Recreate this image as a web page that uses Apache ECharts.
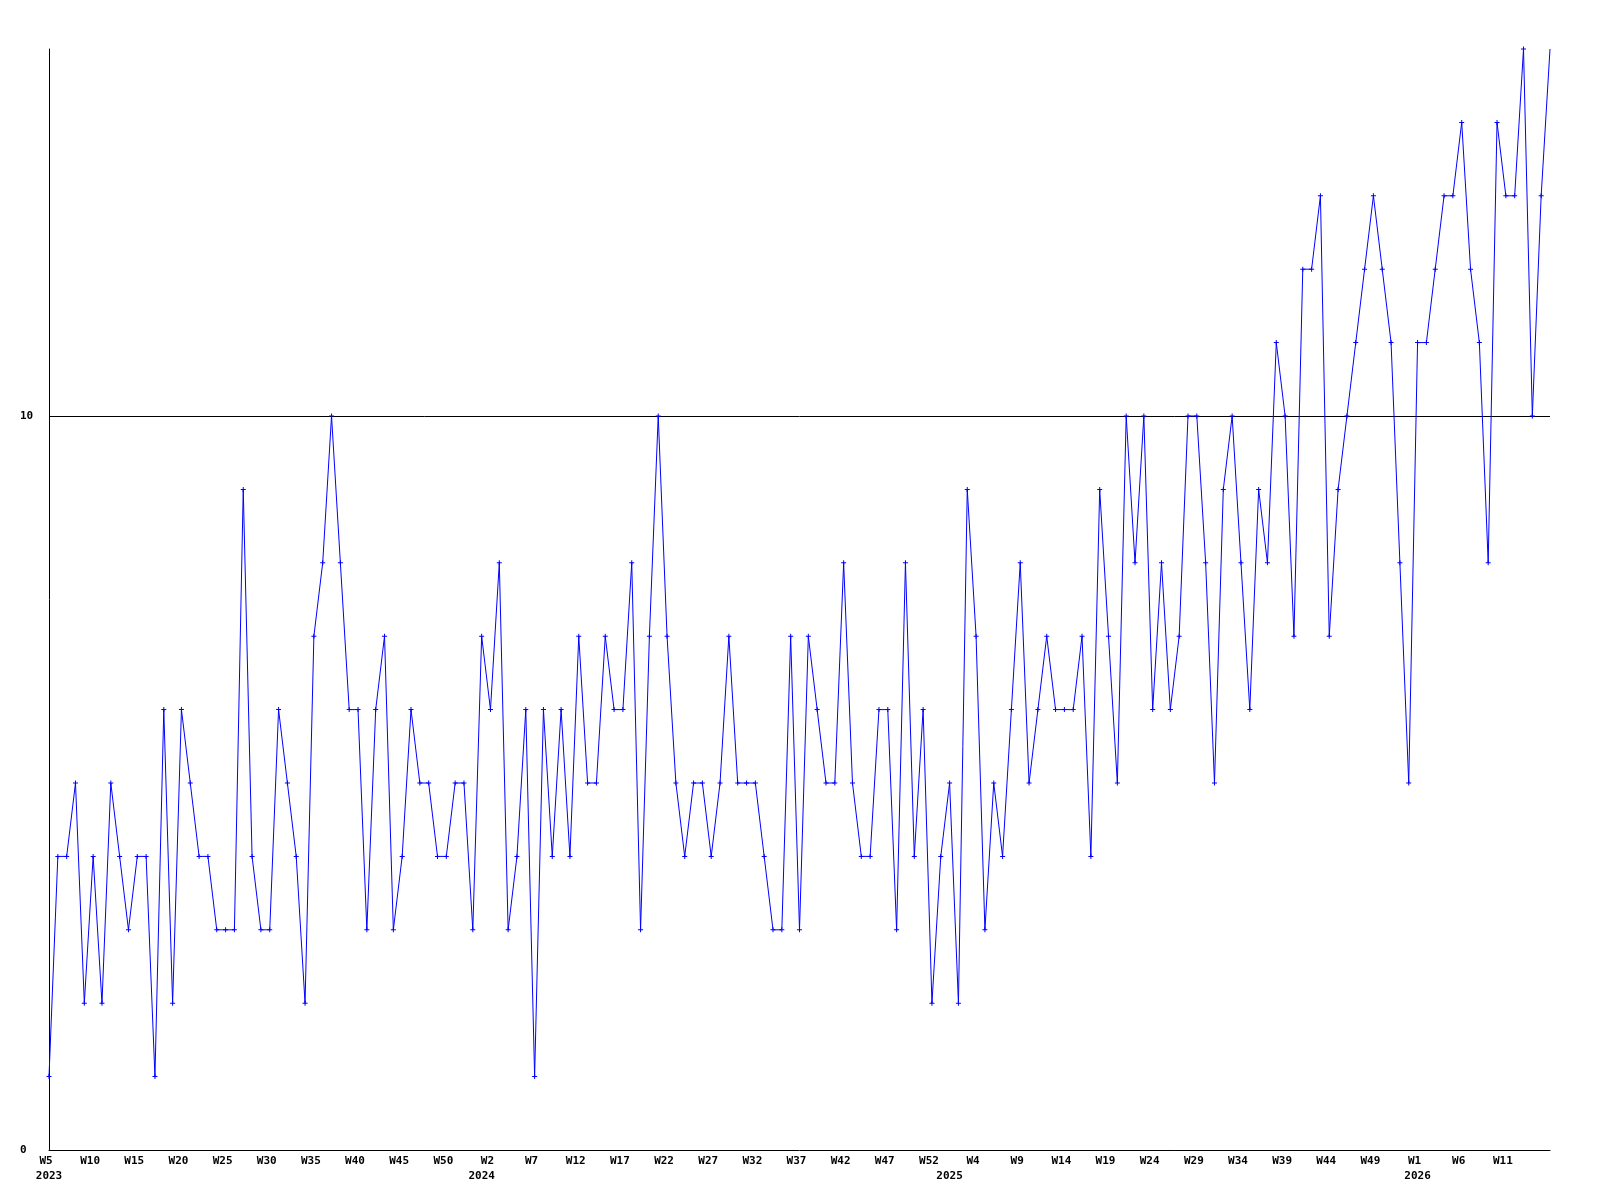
<!DOCTYPE html>
<html>
<head>
<meta charset="utf-8">
<script src="https://cdn.jsdelivr.net/npm/echarts@6/dist/echarts.min.js"></script>
<style>
  html, body { margin: 0; padding: 0; background: #fff; }
  #chart { width: 1600px; height: 1200px; }
</style>
</head>
<body>
<div id="chart"></div>
<script>
// weekly counts, first point is 2023 W5
const values = [
  1, 4, 4, 5, 2, 4, 2, 5, 4, 3,
  4, 4, 1, 6, 2, 6, 5, 4, 4, 3,
  3, 3, 9, 4, 3, 3, 6, 5, 4, 2,
  7, 8, 10, 8, 6, 6, 3, 6, 7, 3,
  4, 6, 5, 5, 4, 4, 5, 5, 3, 7,
  6, 8, 3, 4, 6, 1, 6, 4, 6, 4,
  7, 5, 5, 7, 6, 6, 8, 3, 7, 10,
  7, 5, 4, 5, 5, 4, 5, 7, 5, 5,
  5, 4, 3, 3, 7, 3, 7, 6, 5, 5,
  8, 5, 4, 4, 6, 6, 3, 8, 4, 6,
  2, 4, 5, 2, 9, 7, 3, 5, 4, 6,
  8, 5, 6, 7, 6, 6, 6, 7, 4, 9,
  7, 5, 10, 8, 10, 6, 8, 6, 7, 10,
  10, 8, 5, 9, 10, 8, 6, 9, 8, 11,
  10, 7, 12, 12, 13, 7, 9, 10, 11, 12,
  13, 12, 11, 8, 5, 11, 11, 12, 13, 13,
  14, 12, 11, 8, 14, 13, 13, 15, 10, 13,
  15
];

const startYear = 2023;
const startWeek = 5;
const weeksPerYear = 53;
const labelStep = 5;
const yTicks = [0, 10];

// week / year per point
const weeks = [];
const years = [];
let wk = startWeek, yr = startYear;
for (let i = 0; i < values.length; i++) {
  weeks.push(wk);
  years.push(yr);
  wk++;
  if (wk > weeksPerYear) { wk = 1; yr++; }
}
const categories = weeks.map((w, i) => years[i] + "-W" + w);
const last = values.length - 1;

const font = { fontFamily: "DejaVu Sans Mono", fontWeight: "bold", fontSize: 11, color: "#000" };
const plus = "path://M2,0H3V2H5V3H3V5H2V3H0V2H2Z";

const chart = echarts.init(document.getElementById("chart"), null, { renderer: "canvas" });

chart.setOption({
  animation: false,
  backgroundColor: "#fff",
  grid: { left: 49, right: 50, top: 49, bottom: 50, containLabel: false },
  xAxis: [
    {
      type: "category",
      data: categories,
      boundaryGap: false,
      axisLine: { lineStyle: { color: "#000", width: 1 } },
      axisTick: { show: false },
      splitLine: { show: false },
      axisLabel: Object.assign({}, font, {
        margin: 6,
        padding: [0, 6, 0, 0],
        interval: (i) => i % labelStep === 0 && i !== last,
        formatter: (v, i) => "W" + weeks[i]
      })
    },
    {
      type: "category",
      data: categories,
      boundaryGap: false,
      position: "bottom",
      offset: 15,
      axisLine: { show: false },
      axisTick: { show: false },
      splitLine: { show: false },
      axisLabel: Object.assign({}, font, {
        margin: 6,
        interval: (i) => i === 0 || weeks[i] === 1,
        formatter: (v, i) => String(years[i])
      })
    }
  ],
  yAxis: {
    type: "value",
    min: 0,
    max: 15,
    interval: 10,
    axisLine: { show: true, lineStyle: { color: "#000", width: 1 } },
    axisTick: { show: false },
    splitLine: { show: true, lineStyle: { color: ["transparent", "#000", "transparent"], width: 1 } },
    axisLabel: Object.assign({}, font, {
      align: "left",
      margin: 29,
      formatter: (v) => (yTicks.includes(v) ? String(v) : "")
    })
  },
  series: [
    {
      type: "line",
      data: values,
      xAxisIndex: 0,
      symbol: (v, p) => (p.dataIndex === last ? "none" : plus),
      symbolSize: 5,
      showAllSymbol: true,
      lineStyle: { color: "#0000ff", width: 1 },
      itemStyle: { color: "#0000ff" },
      clip: true
    }
  ]
});
</script>
</body>
</html>
